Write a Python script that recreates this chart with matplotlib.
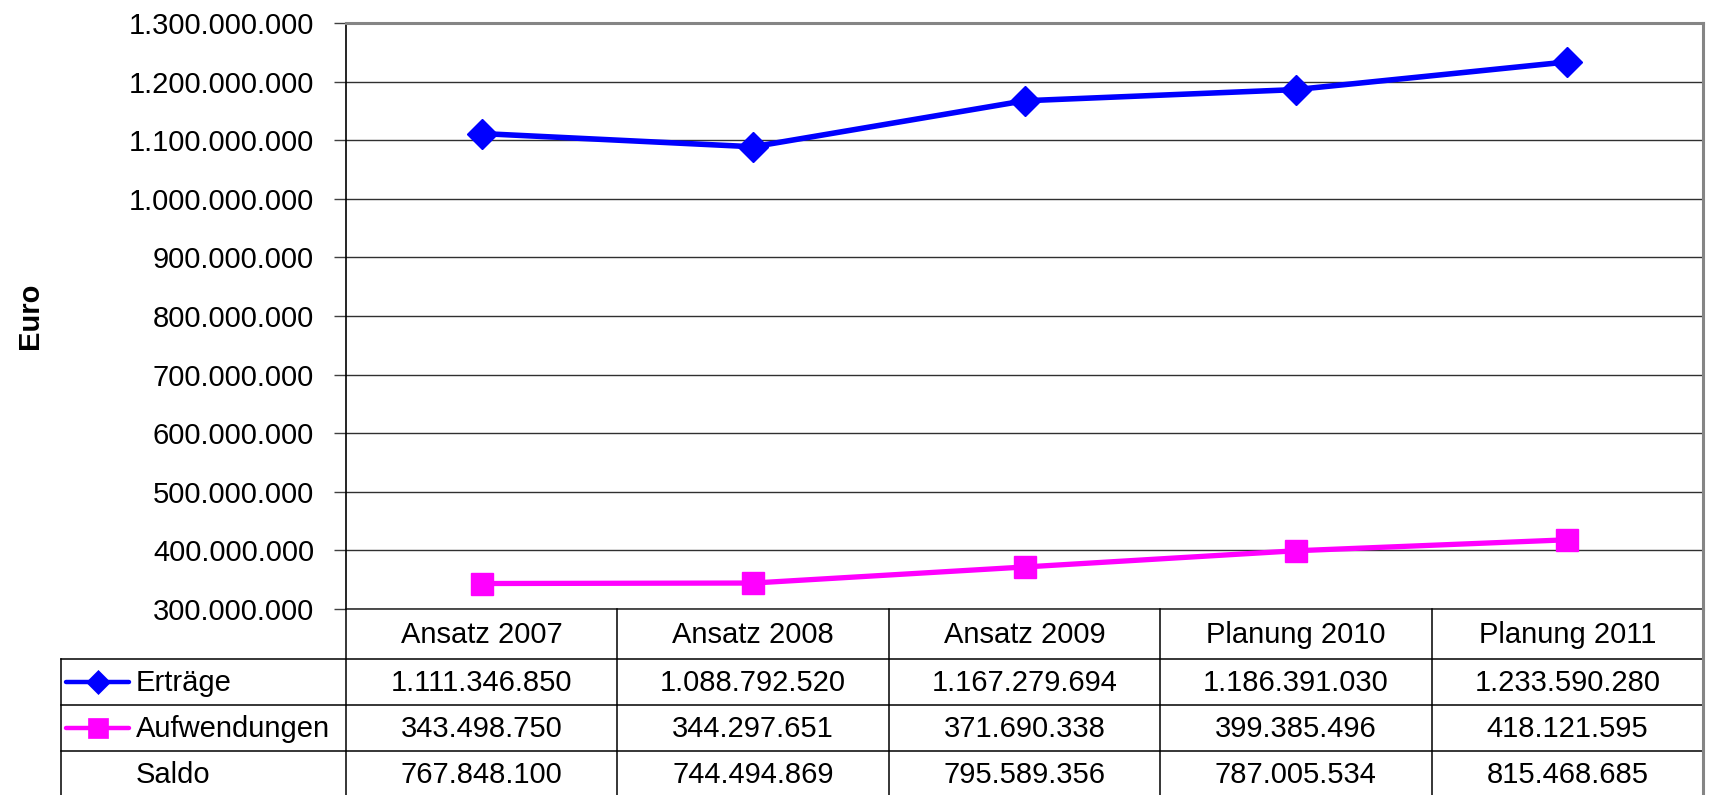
import matplotlib
matplotlib.use("Agg")
import matplotlib.pyplot as plt
from matplotlib.ticker import FuncFormatter, MultipleLocator
from matplotlib.lines import Line2D

plt.rcParams['font.family'] = ['Liberation Sans', 'DejaVu Sans']

# --- data ---------------------------------------------------------------
categories = ["Ansatz 2007", "Ansatz 2008", "Ansatz 2009", "Planung 2010", "Planung 2011"]
ertraege = [1111346850, 1088792520, 1167279694, 1186391030, 1233590280]
aufwendungen = [343498750, 344297651, 371690338, 399385496, 418121595]
saldo = [e - a for e, a in zip(ertraege, aufwendungen)]

row_labels = ["Erträge", "Aufwendungen", "Saldo"]
rows = [ertraege, aufwendungen, saldo]

y_min, y_max, y_step = 300_000_000, 1_300_000_000, 100_000_000


def de_number(v, _pos=None):
    return f"{int(round(v)):,}".replace(",", ".")


W, H, DPI = 1709, 795, 100
fig = plt.figure(figsize=(W / DPI, H / DPI), dpi=DPI)
FS = 21

# plot area in pixel coordinates
px_left, px_right, px_top, px_bottom = 346, 1703, 23, 609
ax = fig.add_axes([px_left / W, 1 - px_bottom / H,
                   (px_right - px_left) / W, (px_bottom - px_top) / H])

x = list(range(len(categories)))
blue = "#0000FF"
magenta = "#FF00FF"

ax.plot(x, ertraege, color=blue, lw=4.0, marker="D", ms=15,
        mfc=blue, mec=blue, mew=1, zorder=4, solid_joinstyle="round")
ax.plot(x, aufwendungen, color=magenta, lw=3.8, marker="s", ms=16.5,
        mfc=magenta, mec=magenta, mew=1, zorder=4)

ax.set_xlim(-0.5, len(categories) - 0.5)
ax.set_ylim(y_min, y_max)
ax.yaxis.set_major_locator(MultipleLocator(y_step))
ax.yaxis.set_major_formatter(FuncFormatter(de_number))
ax.grid(axis="y", color="#303030", lw=1)
ax.set_axisbelow(True)
ax.set_xticks([])
ax.tick_params(axis="y", labelsize=FS, length=9, width=1, color="#404040", pad=14)

for side in ("top", "right"):
    ax.spines[side].set_color("#858585")
    ax.spines[side].set_linewidth(2.2)
ax.spines["left"].set_color("black")
ax.spines["left"].set_linewidth(1.2)
ax.spines["bottom"].set_color("#303030")
ax.spines["bottom"].set_linewidth(1.2)

fig.text(30 / W, 1 - 316 / H, "Euro", rotation=90, fontsize=FS, fontweight="bold",
         ha="center", va="center")

# --- data table beneath the plot ----------------------------------------
ov = fig.add_axes([0, 0, 1, 1], zorder=5)
ov.set_xlim(0, W)
ov.set_ylim(H, 0)
ov.axis("off")
ov.patch.set_alpha(0)

fig.canvas.draw()


def data_to_px(xv):
    disp = ax.transData.transform((xv, y_min))
    return ov.transData.inverted().transform(disp)[0]


col_edges = [data_to_px(i - 0.5) for i in range(len(categories) + 1)]
col_centers = [data_to_px(i) for i in x]

header_top, header_bottom = px_bottom, 659
row_h = 46
row_tops = [header_bottom + i * row_h for i in range(len(rows) + 1)]
legend_left = 61
table_right = col_edges[-1]

lc = "black"
lw = 1.1
# horizontal lines
for yy in row_tops:
    ov.plot([legend_left, table_right], [yy, yy], color=lc, lw=lw)
# vertical lines
for xe in col_edges[:-1]:
    ov.plot([xe, xe], [header_top, H + 5], color=lc, lw=lw)
ov.plot([table_right, table_right], [header_top, H + 5], color="#858585", lw=2.2)
ov.plot([legend_left, legend_left], [header_bottom, H + 5], color=lc, lw=lw)

# header labels
for cx, cat in zip(col_centers, categories):
    ov.text(cx, (header_top + header_bottom) / 2 + 1, cat, fontsize=FS,
            ha="center", va="center")

# row labels with legend keys, and values
key_x0, key_x1, text_x = 66, 129, 136
keys = [(blue, "D", 12.5), (magenta, "s", 15), (None, None, None)]
for i, (label, vals) in enumerate(zip(row_labels, rows)):
    cy = (row_tops[i] + row_tops[i + 1]) / 2 + 1
    color, marker, ms = keys[i]
    if color is not None:
        ov.add_line(Line2D([key_x0, key_x1], [cy - 1, cy - 1], color=color, lw=3.2,
                           solid_capstyle="round"))
        ov.add_line(Line2D([(key_x0 + key_x1) / 2], [cy - 1], marker=marker, ms=ms,
                           color=color, mec=color, mew=0.5, lw=0))
    ov.text(text_x, cy, label, fontsize=FS, ha="left", va="center")
    for cx, v in zip(col_centers, vals):
        ov.text(cx, cy, de_number(v), fontsize=FS, ha="center", va="center")

fig.savefig("out.png", dpi=DPI, facecolor="white")
